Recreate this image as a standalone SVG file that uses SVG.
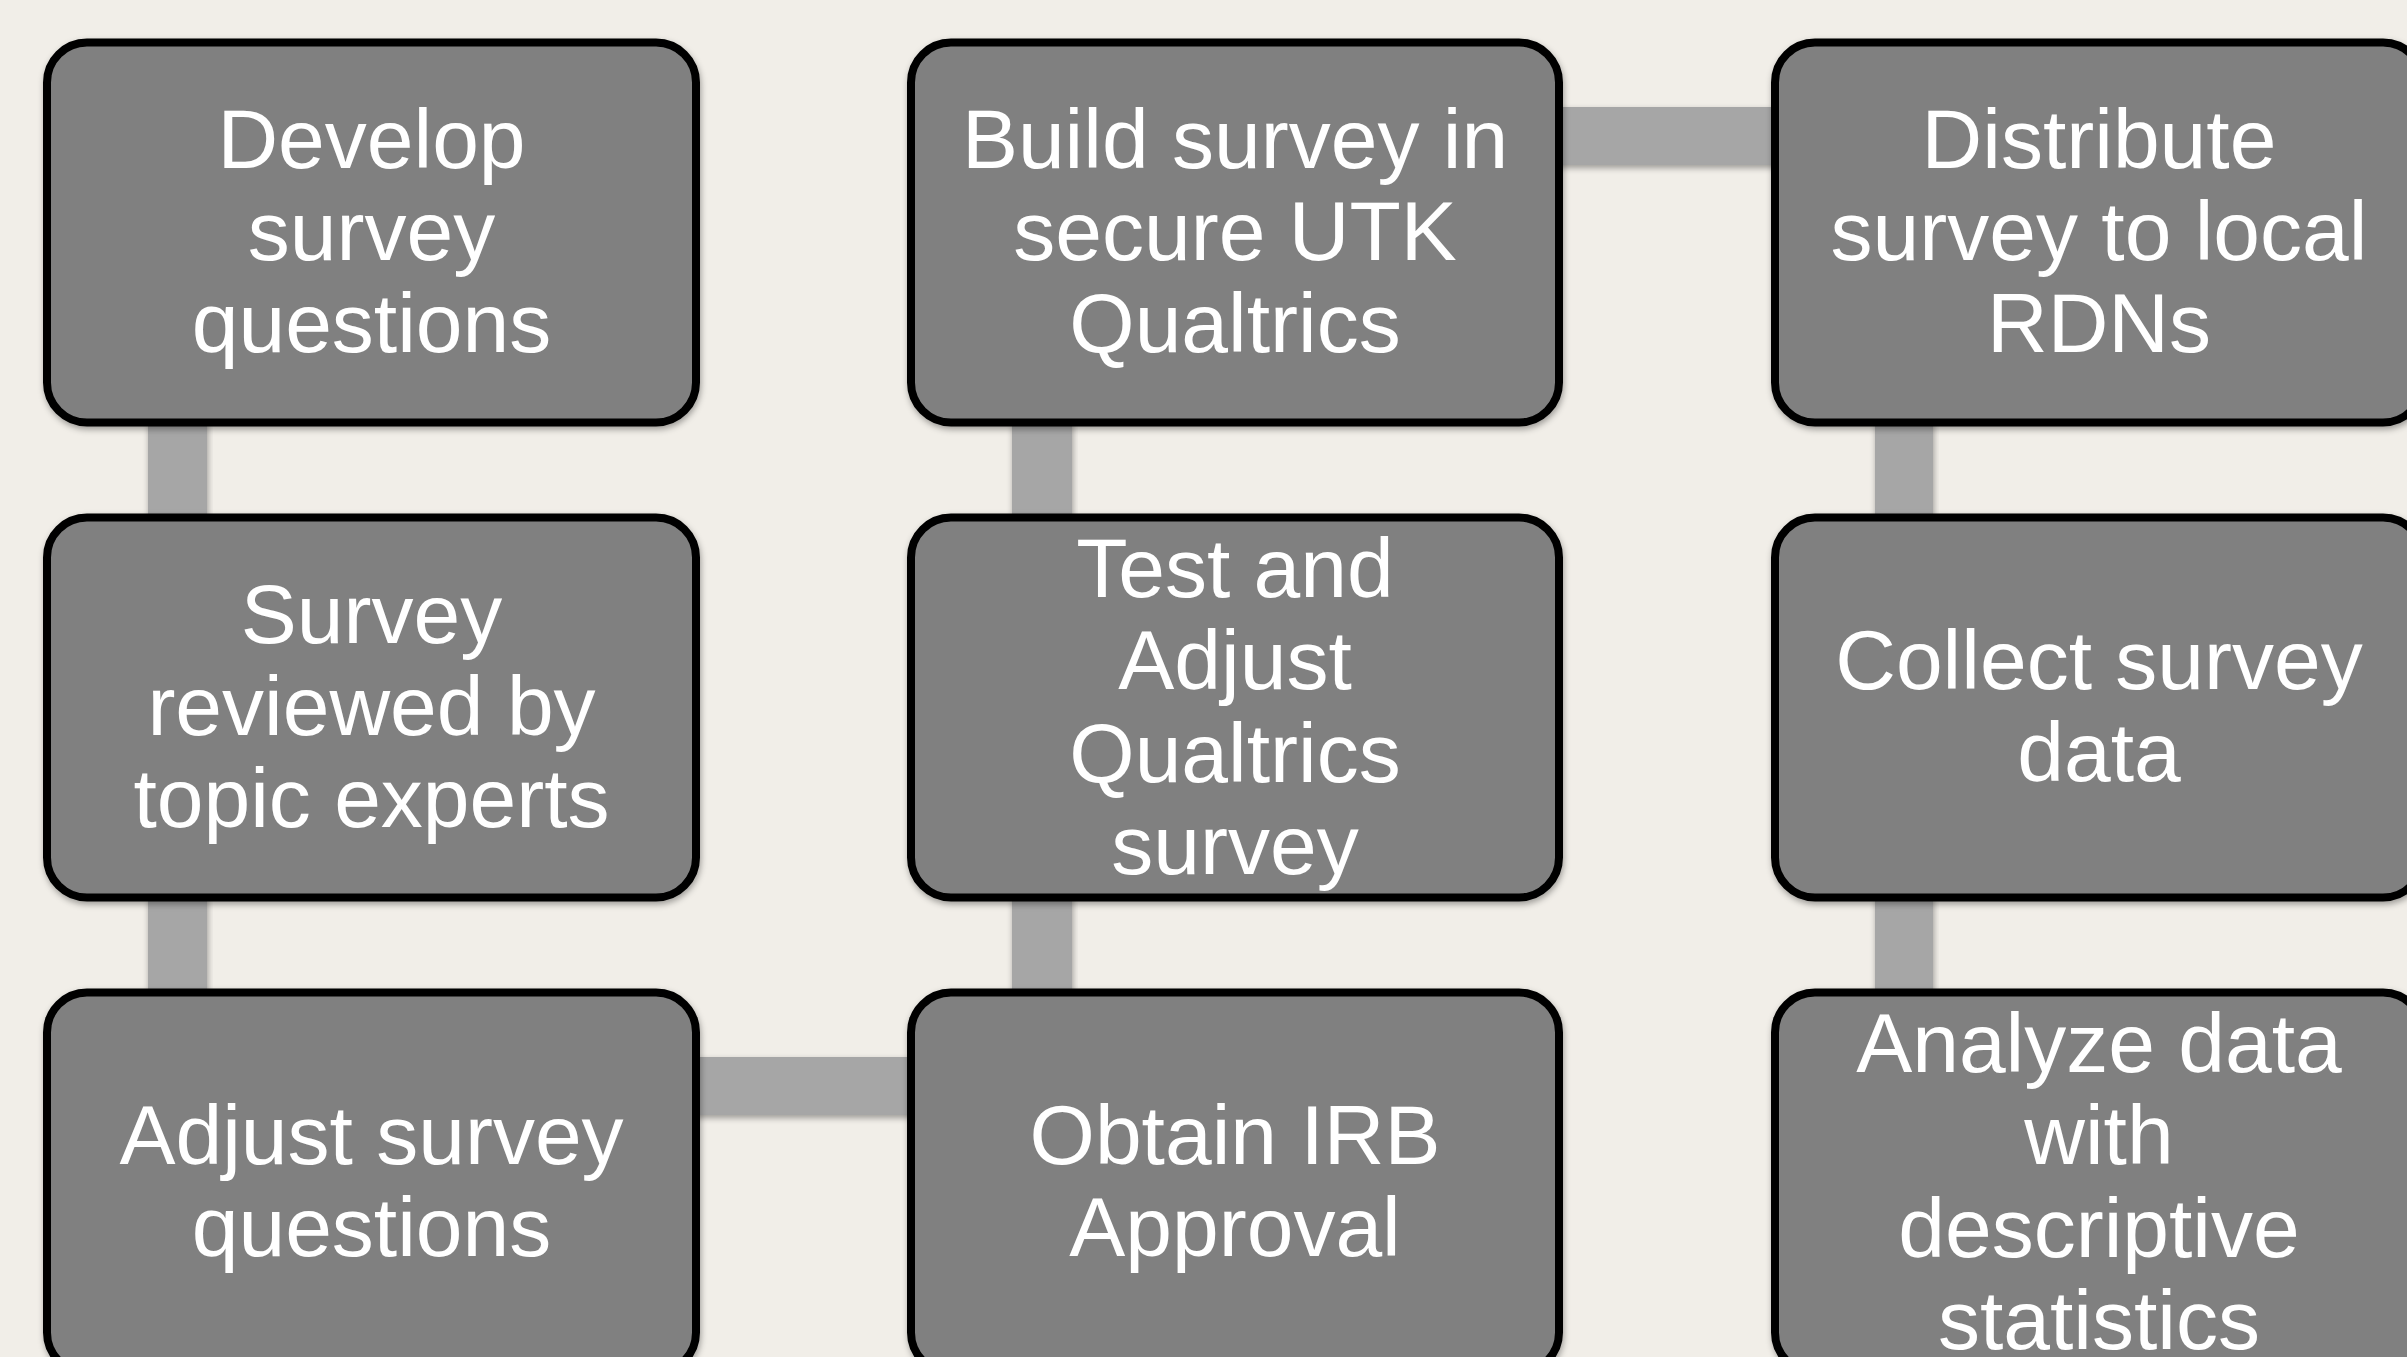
<svg xmlns="http://www.w3.org/2000/svg" width="2407" height="1357" viewBox="0 0 2407 1357">
  <defs>
    <filter id="shadow" x="-10%" y="-10%" width="120%" height="130%">
      <feDropShadow dx="1" dy="3" stdDeviation="3" flood-color="#000000" flood-opacity="0.35"/>
    </filter>
    <style>
      .bg { fill: #f1eee8; }
      .link { fill: #a6a6a6; filter: url(#shadow); }
      .box { fill: #808080; stroke: #000000; stroke-width: 8; filter: url(#shadow); }
      .label { fill: #ffffff; font-family: "Liberation Sans", Arial, Helvetica, sans-serif; font-size: 84px; text-anchor: middle; }
    </style>
  </defs>

  <rect class="bg" x="0" y="0" width="2407" height="1357"/>

  <!-- connectors between steps -->
  <g id="connectors">
    <!-- column 1: develop -> reviewed -> adjust -->
    <rect class="link" x="148" y="420" width="59" height="100"/>
    <rect class="link" x="148" y="895" width="59" height="100"/>
    <!-- row 3: adjust questions -> IRB -->
    <rect class="link" x="694" y="1057" width="219" height="58"/>
    <!-- column 2: IRB -> test -> build -->
    <rect class="link" x="1012" y="895" width="60" height="100"/>
    <rect class="link" x="1012" y="420" width="60" height="100"/>
    <!-- row 1: build -> distribute -->
    <rect class="link" x="1557" y="107" width="220" height="58"/>
    <!-- column 3: distribute -> collect -> analyze -->
    <rect class="link" x="1875" y="420" width="58" height="100"/>
    <rect class="link" x="1875" y="895" width="58" height="100"/>
  </g>

  <g id="node-develop">
    <rect class="box" x="47" y="42.5" width="649" height="380" rx="40" ry="40"/>
    <text class="label"><tspan x="371.5" y="167.6">Develop</tspan><tspan x="371.5" y="260">survey</tspan><tspan x="371.5" y="352.4">questions</tspan></text>
  </g>

  <g id="node-reviewed">
    <rect class="box" x="47" y="517.5" width="649" height="380" rx="40" ry="40"/>
    <text class="label"><tspan x="371.5" y="642.6">Survey</tspan><tspan x="371.5" y="735">reviewed by</tspan><tspan x="371.5" y="827.4">topic experts</tspan></text>
  </g>

  <g id="node-adjust">
    <rect class="box" x="47" y="992.5" width="649" height="380" rx="40" ry="40"/>
    <text class="label"><tspan x="371.5" y="1163.8">Adjust survey</tspan><tspan x="371.5" y="1256.2">questions</tspan></text>
  </g>

  <g id="node-build">
    <rect class="box" x="911" y="42.5" width="648" height="380" rx="40" ry="40"/>
    <text class="label"><tspan x="1235" y="167.6">Build survey in</tspan><tspan x="1235" y="260">secure UTK</tspan><tspan x="1235" y="352.4">Qualtrics</tspan></text>
  </g>

  <g id="node-test">
    <rect class="box" x="911" y="517.5" width="648" height="380" rx="40" ry="40"/>
    <text class="label"><tspan x="1235" y="596.8">Test and</tspan><tspan x="1235" y="689.2">Adjust</tspan><tspan x="1235" y="781.6">Qualtrics</tspan><tspan x="1235" y="874">survey</tspan></text>
  </g>

  <g id="node-irb">
    <rect class="box" x="911" y="992.5" width="648" height="380" rx="40" ry="40"/>
    <text class="label"><tspan x="1235" y="1163.8">Obtain IRB</tspan><tspan x="1235" y="1256.2">Approval</tspan></text>
  </g>

  <g id="node-distribute">
    <rect class="box" x="1775" y="42.5" width="648" height="380" rx="40" ry="40"/>
    <text class="label"><tspan x="2099" y="167.6">Distribute</tspan><tspan x="2099" y="260">survey to local</tspan><tspan x="2099" y="352.4">RDNs</tspan></text>
  </g>

  <g id="node-collect">
    <rect class="box" x="1775" y="517.5" width="648" height="380" rx="40" ry="40"/>
    <text class="label"><tspan x="2099" y="688.8">Collect survey</tspan><tspan x="2099" y="781.2">data</tspan></text>
  </g>

  <g id="node-analyze">
    <rect class="box" x="1775" y="992.5" width="648" height="380" rx="40" ry="40"/>
    <text class="label"><tspan x="2099" y="1071.8">Analyze data</tspan><tspan x="2099" y="1164.2">with</tspan><tspan x="2099" y="1256.6">descriptive</tspan><tspan x="2099" y="1349">statistics</tspan></text>
  </g>
</svg>
